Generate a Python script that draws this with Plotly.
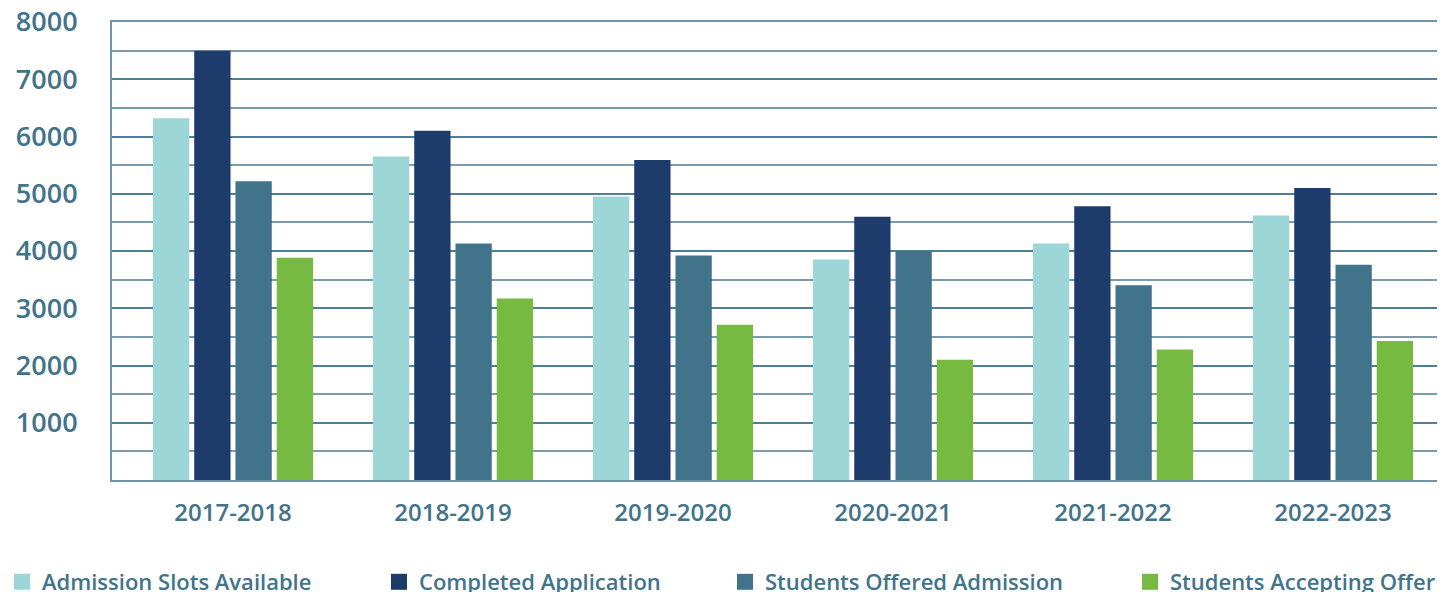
import plotly.graph_objects as go

years = ["2017-2018", "2018-2019", "2019-2020", "2020-2021", "2021-2022", "2022-2023"]
series_names = ["Admission Slots Available", "Completed Application",
                "Students Offered Admission", "Students Accepting Offer"]
slots = [6320, 5650, 4950, 3850, 4130, 4620]
completed = [7500, 6100, 5590, 4600, 4780, 5100]
offered = [5220, 4130, 3920, 4000, 3400, 3760]
accepting = [3880, 3170, 2710, 2100, 2280, 2430]
y_ticks = [1000, 2000, 3000, 4000, 5000, 6000, 7000, 8000]

colors = ["#9dd6d7", "#1d3c6b", "#41748b", "#77ba42"]
values = [slots, completed, offered, accepting]
legend_ids = ["legend", "legend2", "legend3", "legend4"]
legend_text_px = [43, 420, 766, 1171]

TXT = "#41738b"
FONT = "Open Sans"
W, H = 1445, 592
OFF = 8  # page body margin
ML, MR = 112 - OFF, OFF
PW = W - ML - MR

fig = go.Figure()
for name, vals, col in zip(series_names, values, colors):
    fig.add_trace(go.Bar(x=years, y=vals, name=name, marker_color=col,
                         marker_line_width=0, showlegend=False))
for name, col, lid in zip(series_names, colors, legend_ids):
    fig.add_trace(go.Scatter(x=[None], y=[None], mode="markers", name=name,
                             marker=dict(symbol="square", size=16, color=col),
                             showlegend=True, legend=lid))

leg_common = dict(orientation="h", xref="paper", yref="container",
                  xanchor="left", yanchor="middle", bgcolor="rgba(0,0,0,0)",
                  font=dict(family=FONT, size=22, color=TXT, weight=600), itemwidth=30)
layout_legends = {}
for lid, tx in zip(legend_ids, legend_text_px):
    left_fig = tx - 49
    layout_legends[lid] = dict(leg_common, x=(left_fig - ML) / PW,
                               y=(H - (582 - OFF)) / H)

fig.update_layout(
    width=W, height=H,
    margin=dict(l=ML, r=MR, t=22 - OFF, b=H - (480 - OFF), autoexpand=False),
    paper_bgcolor="white", plot_bgcolor="white",
    barmode="group", bargap=0.25, bargroupgap=0.12,
    font=dict(family=FONT, color=TXT),
    xaxis=dict(type="category", range=[-0.55, 5.509],
               showline=True, linecolor="#6f95a8", linewidth=2, mirror=True,
               showgrid=False, ticks="", ticklabelstandoff=10,
               tickfont=dict(family=FONT, size=24, color=TXT, weight=600)),
    yaxis=dict(range=[0, 8000], tickvals=y_ticks, ticktext=[str(v) for v in y_ticks],
               showline=True, linecolor="#6f95a8", linewidth=2,
               showgrid=True, gridcolor="#4f7f96", gridwidth=2,
               minor=dict(dtick=500, showgrid=True, gridcolor="#7a9cad", gridwidth=2),
               ticks="", ticklabelstandoff=27, zeroline=False,
               ticklabeloverflow="allow",
               tickfont=dict(family=FONT, size=27, color=TXT, weight=600)),
    **layout_legends,
)

fig.write_html("out.html")
